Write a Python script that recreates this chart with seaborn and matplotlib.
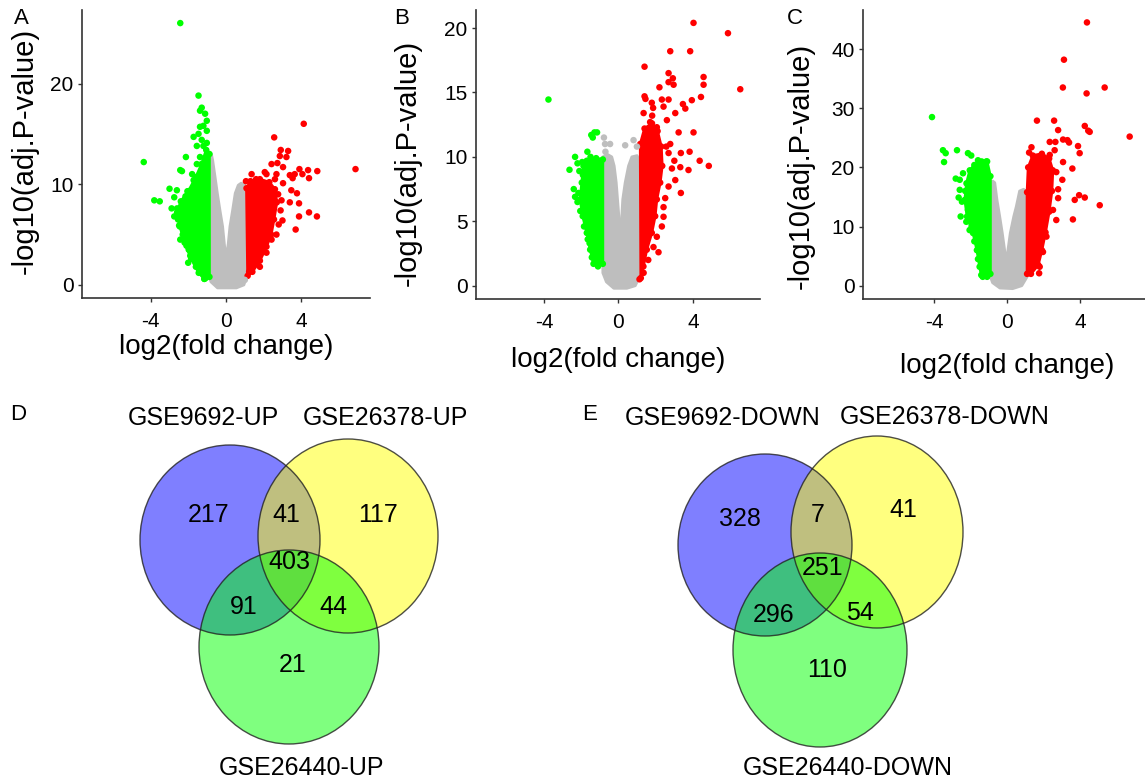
import pandas as pd
import seaborn as sns
import matplotlib.pyplot as plt
from matplotlib.patches import Ellipse

# ---- volcano data (log2 fold change, -log10 adj.P) ----
# dense centre of each colour group (outline of the packed points)
a_gray_core = [(-0.88, 12.9), (-0.78, 13.0), (-0.71, 12.4), (-0.58, 10.7), (-0.46, 9.1), (-0.32, 7.4),
               (-0.18, 5.8), (-0.09, 4.1), (0.0, 2.6), (0.12, 4.1), (0.21, 5.8), (0.35, 7.4), (0.49, 9.1),
               (0.65, 9.9), (0.8, 10.1), (0.98, 10.0), (1.09, 9.4), (1.1, 0.8), (0.95, 0.0), (0.55, -0.3),
               (-0.45, -0.3), (-0.8, 0.3), (-0.88, 0.8)]
a_green_core = [(-0.88, 13.0), (-1.05, 13.4), (-1.3, 12.0), (-1.6, 10.7), (-2.0, 9.3), (-2.4, 8.3),
                (-2.6, 7.2), (-2.45, 5.8), (-2.2, 4.2), (-1.85, 2.6), (-1.45, 1.2), (-1.15, 0.6), (-0.88, 0.8)]
a_red_core = [(1.09, 9.6), (1.3, 10.3), (1.8, 10.5), (2.3, 10.2), (2.6, 9.5), (2.7, 8.2), (2.55, 6.5),
              (2.4, 5.0), (2.15, 3.8), (1.8, 2.4), (1.4, 1.3), (1.15, 0.9)]
a_gray_pts = [(1.0, 0.5)]
a_green_pts = [(-2.43, 26.0), (-1.46, 18.8), (-4.37, 12.2), (-3.81, 8.4), (-3.52, 8.3), (-3.0, 9.55),
               (-2.61, 9.4), (-2.13, 12.7), (-2.34, 11.3), (-2.43, 11.4), (-2.05, 9.3), (-1.87, 9.4),
               (-1.8, 8.7), (-2.15, 8.8), (-2.75, 8.7), (-2.89, 7.6), (-2.75, 6.8), (-2.49, 5.9),
               (-2.43, 4.5), (-1.98, 3.5), (-1.8, 3.0), (-2.01, 2.2), (-1.5, 2.0), (-1.24, 1.1),
               (-1.07, 0.7), (-1.38, 17.3), (-1.29, 17.6), (-1.11, 17.0), (-1.02, 16.3), (-1.2, 15.8),
               (-1.38, 15.7), (-1.46, 15.0), (-1.72, 14.7), (-1.29, 14.4), (-1.02, 15.3), (-1.55, 13.8),
               (-1.2, 13.8), (-1.02, 14.1), (-1.38, 12.7), (-1.55, 12.0), (-1.2, 11.7), (-1.38, 11.1),
               (-1.72, 10.4), (-1.8, 11.0), (-1.02, 12.7), (-2.6, 7.6), (-2.55, 6.5), (-2.3, 5.0),
               (-2.1, 3.9), (-1.9, 2.9), (-1.6, 1.8), (-1.3, 1.2), (-1.15, 0.6), (-2.25, 8.0)]
a_red_pts = [(4.13, 16.0), (2.56, 14.65), (2.91, 13.4), (3.3, 13.3), (2.86, 12.8), (2.73, 12.1),
             (2.42, 12.0), (3.03, 11.7), (3.9, 11.5), (4.36, 11.4), (4.85, 11.3), (3.65, 11.0),
             (4.06, 11.0), (4.41, 10.6), (3.39, 10.9), (2.06, 11.2), (1.36, 11.0), (1.06, 10.3),
             (1.6, 10.5), (3.03, 10.1), (3.47, 9.4), (3.77, 9.1), (3.39, 8.2), (3.88, 8.1), (2.95, 8.4),
             (3.0, 6.4), (3.88, 6.8), (4.41, 7.2), (4.83, 6.8), (3.7, 5.5), (2.68, 5.0), (2.42, 4.5),
             (2.15, 3.2), (1.8, 1.8), (1.23, 1.3), (6.88, 11.5), (3.54, 10.6), (3.21, 12.7),
             (2.68, 11.0), (2.15, 11.0), (2.9, 7.4), (2.77, 9.0), (2.36, 7.0), (2.8, 6.0), (2.6, 10.5)]

b_gray_core = [(-0.84, 10.0), (-0.6, 10.2), (-0.36, 10.0), (-0.23, 9.3), (-0.12, 8.0), (-0.05, 6.7),
               (0.02, 5.4), (0.05, 4.1), (0.09, 3.0), (0.12, 4.1), (0.18, 5.4), (0.23, 6.7), (0.36, 8.0),
               (0.54, 9.3), (0.72, 10.0), (1.0, 10.1), (1.17, 9.5), (1.17, 0.8), (0.9, 0.0), (0.45, -0.2),
               (-0.25, -0.2), (-0.65, 0.3), (-0.84, 1.0)]
b_green_core = [(-0.84, 9.8), (-1.2, 9.9), (-1.7, 9.7), (-1.88, 9.3), (-1.97, 8.0), (-2.06, 6.7),
                (-1.92, 5.4), (-1.7, 4.1), (-1.52, 2.8), (-1.34, 1.7), (-1.1, 1.5), (-0.84, 1.7)]
b_red_core = [(1.17, 11.0), (1.4, 12.2), (1.8, 12.6), (2.1, 12.0), (2.3, 10.8), (2.35, 9.3), (2.24, 8.0),
              (2.06, 6.7), (1.97, 5.4), (1.79, 4.1), (1.52, 2.8), (1.34, 1.5), (1.2, 0.6)]
b_gray_pts = [(-0.78, 11.5), (-0.72, 11.0), (-0.45, 11.0), (0.36, 10.9), (0.81, 11.3), (0.99, 10.8),
              (-0.7, 10.4)]
b_green_pts = [(-3.76, 14.45), (-1.46, 11.7), (-1.29, 11.9), (-1.15, 11.9), (-1.38, 11.5), (-2.33, 10.0),
               (-2.2, 9.5), (-2.63, 9.0), (-1.67, 10.4), (-2.4, 7.5), (-2.33, 6.9), (-2.2, 6.5),
               (-1.91, 8.6), (-1.55, 3.3), (-1.43, 2.2), (-1.25, 2.0), (-2.1, 8.9), (-2.15, 7.2),
               (-2.05, 5.8), (-1.85, 4.6), (-1.65, 3.6), (-1.95, 9.6), (-1.5, 10.0)]
b_red_pts = [(4.03, 20.4), (5.88, 19.6), (2.78, 18.2), (3.85, 18.2), (1.4, 17.0), (6.54, 15.25),
             (2.69, 16.5), (2.92, 16.1), (4.57, 16.2), (4.57, 15.6), (2.69, 15.8), (2.96, 15.6),
             (2.2, 15.4), (1.4, 14.7), (1.79, 14.2), (2.33, 14.45), (2.69, 14.45), (2.42, 13.9),
             (3.46, 14.1), (3.94, 14.4), (4.43, 14.65), (3.59, 13.75), (3.05, 13.4), (4.03, 11.9),
             (3.23, 11.9), (3.82, 10.4), (4.36, 9.7), (4.85, 9.3), (3.35, 10.3), (3.76, 8.98),
             (3.32, 9.2), (3.05, 8.2), (3.35, 7.2), (3.0, 9.7), (2.87, 9.1), (2.69, 7.7), (2.51, 6.8),
             (2.42, 6.1), (2.33, 4.6), (2.15, 2.6), (1.6, 2.0), (1.35, 1.0), (1.13, 0.5), (1.35, 13.4),
             (1.7, 12.7), (2.06, 12.3), (2.6, 12.85), (2.78, 11.0), (2.57, 10.8), (2.69, 10.3),
             (2.42, 5.35), (2.06, 3.8), (1.88, 3.0), (1.45, 14.5), (1.86, 13.8), (1.81, 13.2)]

c_gray_core = [(-0.92, 17.3), (-0.8, 17.7), (-0.68, 17.4), (-0.56, 14.5), (-0.41, 11.7), (-0.27, 8.9),
               (-0.14, 6.0), (-0.05, 3.8), (0.04, 6.0), (0.17, 8.9), (0.36, 11.7), (0.5, 13.4), (0.68, 16.0),
               (0.9, 16.3), (1.09, 15.5), (1.09, 1.5), (0.8, 0.0), (0.3, -0.5), (-0.4, -0.4), (-0.8, 0.5),
               (-0.92, 1.5)]
c_green_core = [(-0.92, 18.5), (-1.1, 21.0), (-1.4, 21.0), (-1.8, 20.4), (-2.05, 19.5), (-2.23, 17.3),
                (-2.32, 14.5), (-2.2, 11.7), (-1.87, 8.9), (-1.66, 6.0), (-1.51, 3.2), (-1.42, 1.8),
                (-1.1, 1.5), (-0.92, 2.0)]
c_red_core = [(1.09, 15.8), (1.15, 20.0), (1.4, 22.0), (1.9, 22.3), (2.3, 21.5), (2.5, 19.5), (2.45, 16.0),
              (2.3, 12.5), (2.1, 9.0), (1.9, 6.0), (1.7, 3.5), (1.3, 2.0), (1.09, 2.0)]
c_gray_pts = []
c_green_pts = [(-4.12, 28.5), (-3.52, 22.9), (-3.37, 22.4), (-3.46, 20.9), (-2.75, 22.9), (-2.15, 22.4),
               (-1.97, 22.0), (-2.82, 18.1), (-2.6, 17.9), (-2.42, 19.0), (-2.6, 16.2), (-2.66, 14.9),
               (-2.48, 14.2), (-2.55, 11.7), (-2.24, 10.8), (-2.06, 9.4), (-1.6, 21.2), (-1.14, 21.0),
               (-1.34, 1.5), (-2.3, 16.0), (-2.15, 12.8), (-1.95, 10.0), (-1.8, 7.5), (-1.6, 4.5)]
c_red_pts = [(4.37, 44.5), (3.11, 38.2), (3.05, 33.5), (4.35, 32.5), (5.34, 33.5), (6.71, 25.2),
             (1.63, 27.9), (2.57, 27.9), (2.79, 26.3), (4.25, 27.0), (4.52, 26.0), (2.33, 24.3),
             (3.06, 24.7), (3.39, 24.2), (3.88, 23.6), (1.33, 23.4), (1.2, 22.5), (3.97, 22.4),
             (3.06, 20.9), (3.57, 19.8), (3.02, 17.9), (2.79, 16.3), (3.94, 15.3), (4.25, 14.9),
             (3.7, 14.5), (5.07, 13.6), (3.6, 11.2), (2.79, 14.8), (2.69, 11.1), (2.15, 8.3),
             (1.96, 5.7), (1.78, 3.2), (1.75, 2.1), (2.33, 22.1), (2.6, 22.9), (1.78, 21.8),
             (2.69, 19.2), (2.51, 12.8), (4.44, 26.2), (2.64, 24.3), (3.3, 24.6)]

# ---- Venn counts: only1, 1&2, only2, 1&3, all, 2&3, only3 ----
d_sets = ['GSE9692-UP', 'GSE26378-UP', 'GSE26440-UP']
d_counts = [217, 41, 117, 91, 403, 44, 21]
e_sets = ['GSE9692-DOWN', 'GSE26378-DOWN', 'GSE26440-DOWN']
e_counts = [328, 7, 41, 296, 251, 54, 110]

colors = {'NoDiff': '#bebebe', 'Down': '#00ff00', 'Up': '#ff0000'}

sns.set_style('ticks')
plt.rcParams['font.family'] = ['Liberation Sans', 'DejaVu Sans']
plt.rcParams['axes.unicode_minus'] = False
for k in ['text.color', 'axes.labelcolor', 'xtick.labelcolor', 'ytick.labelcolor']:
    plt.rcParams[k] = 'black'

W, H = 1145, 782
fig = plt.figure(figsize=(W / 100, H / 100), dpi=100)
bg = fig.add_axes([0, 0, 1, 1])
bg.set_xlim(0, W)
bg.set_ylim(H, 0)
bg.axis('off')


def volcano(ax, cores, pts, xlim, ylim, yticks, ylab_xy, xlab_xy):
    rows = []
    for grp, poly in cores.items():
        xs = [p[0] for p in poly]
        ys = [p[1] for p in poly]
        ax.fill(xs, ys, color=colors[grp], lw=2, joinstyle='round', zorder=1)
        if grp != 'NoDiff':
            rows += [{'logFC': x, 'nlogP': y, 'group': grp} for x, y in poly]
    for grp, lst in pts.items():
        rows += [{'logFC': x, 'nlogP': y, 'group': grp} for x, y in lst]
    df = pd.DataFrame(rows)
    sns.scatterplot(data=df, x='logFC', y='nlogP', hue='group', palette=colors, s=22,
                    linewidth=0, legend=False, ax=ax, zorder=2)
    ax.set_xlim(*xlim)
    ax.set_ylim(*ylim)
    ax.set_xticks([-4, 0, 4])
    ax.set_yticks(yticks)
    ax.set_facecolor('none')
    sns.despine(ax=ax)
    for s in ['left', 'bottom']:
        ax.spines[s].set_linewidth(1.2)
        ax.spines[s].set_color('#333333')
    ax.tick_params(labelsize=15, length=3, width=1, color='#333333', pad=3)
    ax.tick_params(axis='x', pad=7)
    ax.set_xlabel('log2(fold change)', fontsize=20)
    ax.set_ylabel('-log10(adj.P-value)', fontsize=21)
    ax.yaxis.set_label_coords(*ylab_xy)
    ax.xaxis.set_label_coords(*xlab_xy)


axA = fig.add_axes([82 / W, (H - 298) / H, 288 / W, 288 / H])
volcano(axA, {'NoDiff': a_gray_core, 'Down': a_green_core, 'Up': a_red_core},
        {'NoDiff': a_gray_pts, 'Down': a_green_pts, 'Up': a_red_pts},
        (-7.65, 7.65), (-1.3, 27.3), [0, 10, 20], (-0.15, 0.51), (0.5, -0.125))

axB = fig.add_axes([476 / W, (H - 299) / H, 284 / W, 289 / H])
volcano(axB, {'NoDiff': b_gray_core, 'Down': b_green_core, 'Up': b_red_core},
        {'NoDiff': b_gray_pts, 'Down': b_green_pts, 'Up': b_red_pts},
        (-7.65, 7.6), (-1.03, 21.4), [0, 5, 10, 15, 20], (-0.19, 0.47), (0.5, -0.165))

axC = fig.add_axes([863 / W, (H - 299) / H, 282 / W, 289 / H])
volcano(axC, {'NoDiff': c_gray_core, 'Down': c_green_core, 'Up': c_red_core},
        {'NoDiff': c_gray_pts, 'Down': c_green_pts, 'Up': c_red_pts},
        (-7.9, 7.55), (-2.25, 46.6), [0, 10, 20, 30, 40], (-0.17, 0.46), (0.51, -0.187))

for lab, x, y in [('A', 21, 19), ('B', 402, 19), ('C', 795, 19), ('D', 18, 415), ('E', 590, 415)]:
    bg.text(x, y, lab, fontsize=16, ha='center', va='center')


def venn(circles, sets, counts, set_pos, count_pos):
    fills = ['#0000ff', '#ffff00', '#00ff00']
    for (cx, cy, rx, ry), col in zip(circles, fills):
        bg.add_patch(Ellipse((cx, cy), 2 * rx, 2 * ry, facecolor=col, alpha=0.5, edgecolor='none'))
    for cx, cy, rx, ry in circles:
        bg.add_patch(Ellipse((cx, cy), 2 * rx, 2 * ry, facecolor='none', edgecolor='#222222',
                             lw=1.0, alpha=0.8))
    for name, (x, y) in zip(sets, set_pos):
        bg.text(x, y, name, fontsize=18, ha='center', va='center')
    for n, (x, y) in zip(counts, count_pos):
        bg.text(x, y, str(n), fontsize=18, ha='center', va='center')


venn([(230, 540, 90, 95), (348, 536, 90, 97), (289, 647, 90, 97)],
     d_sets, d_counts,
     [(203, 418), (385, 418), (302, 768)],
     [(209, 515), (286, 515), (378, 515), (244, 607), (289, 562), (333, 607), (293, 665)])

venn([(765, 545, 87, 91), (877, 532, 86, 96), (820, 650, 87, 97)],
     e_sets, e_counts,
     [(723, 418), (945, 417), (848, 768)],
     [(740, 519), (818, 515), (903, 510), (774, 615), (823, 568), (860, 613), (827, 670)])

fig.savefig('out.png', dpi=100)
